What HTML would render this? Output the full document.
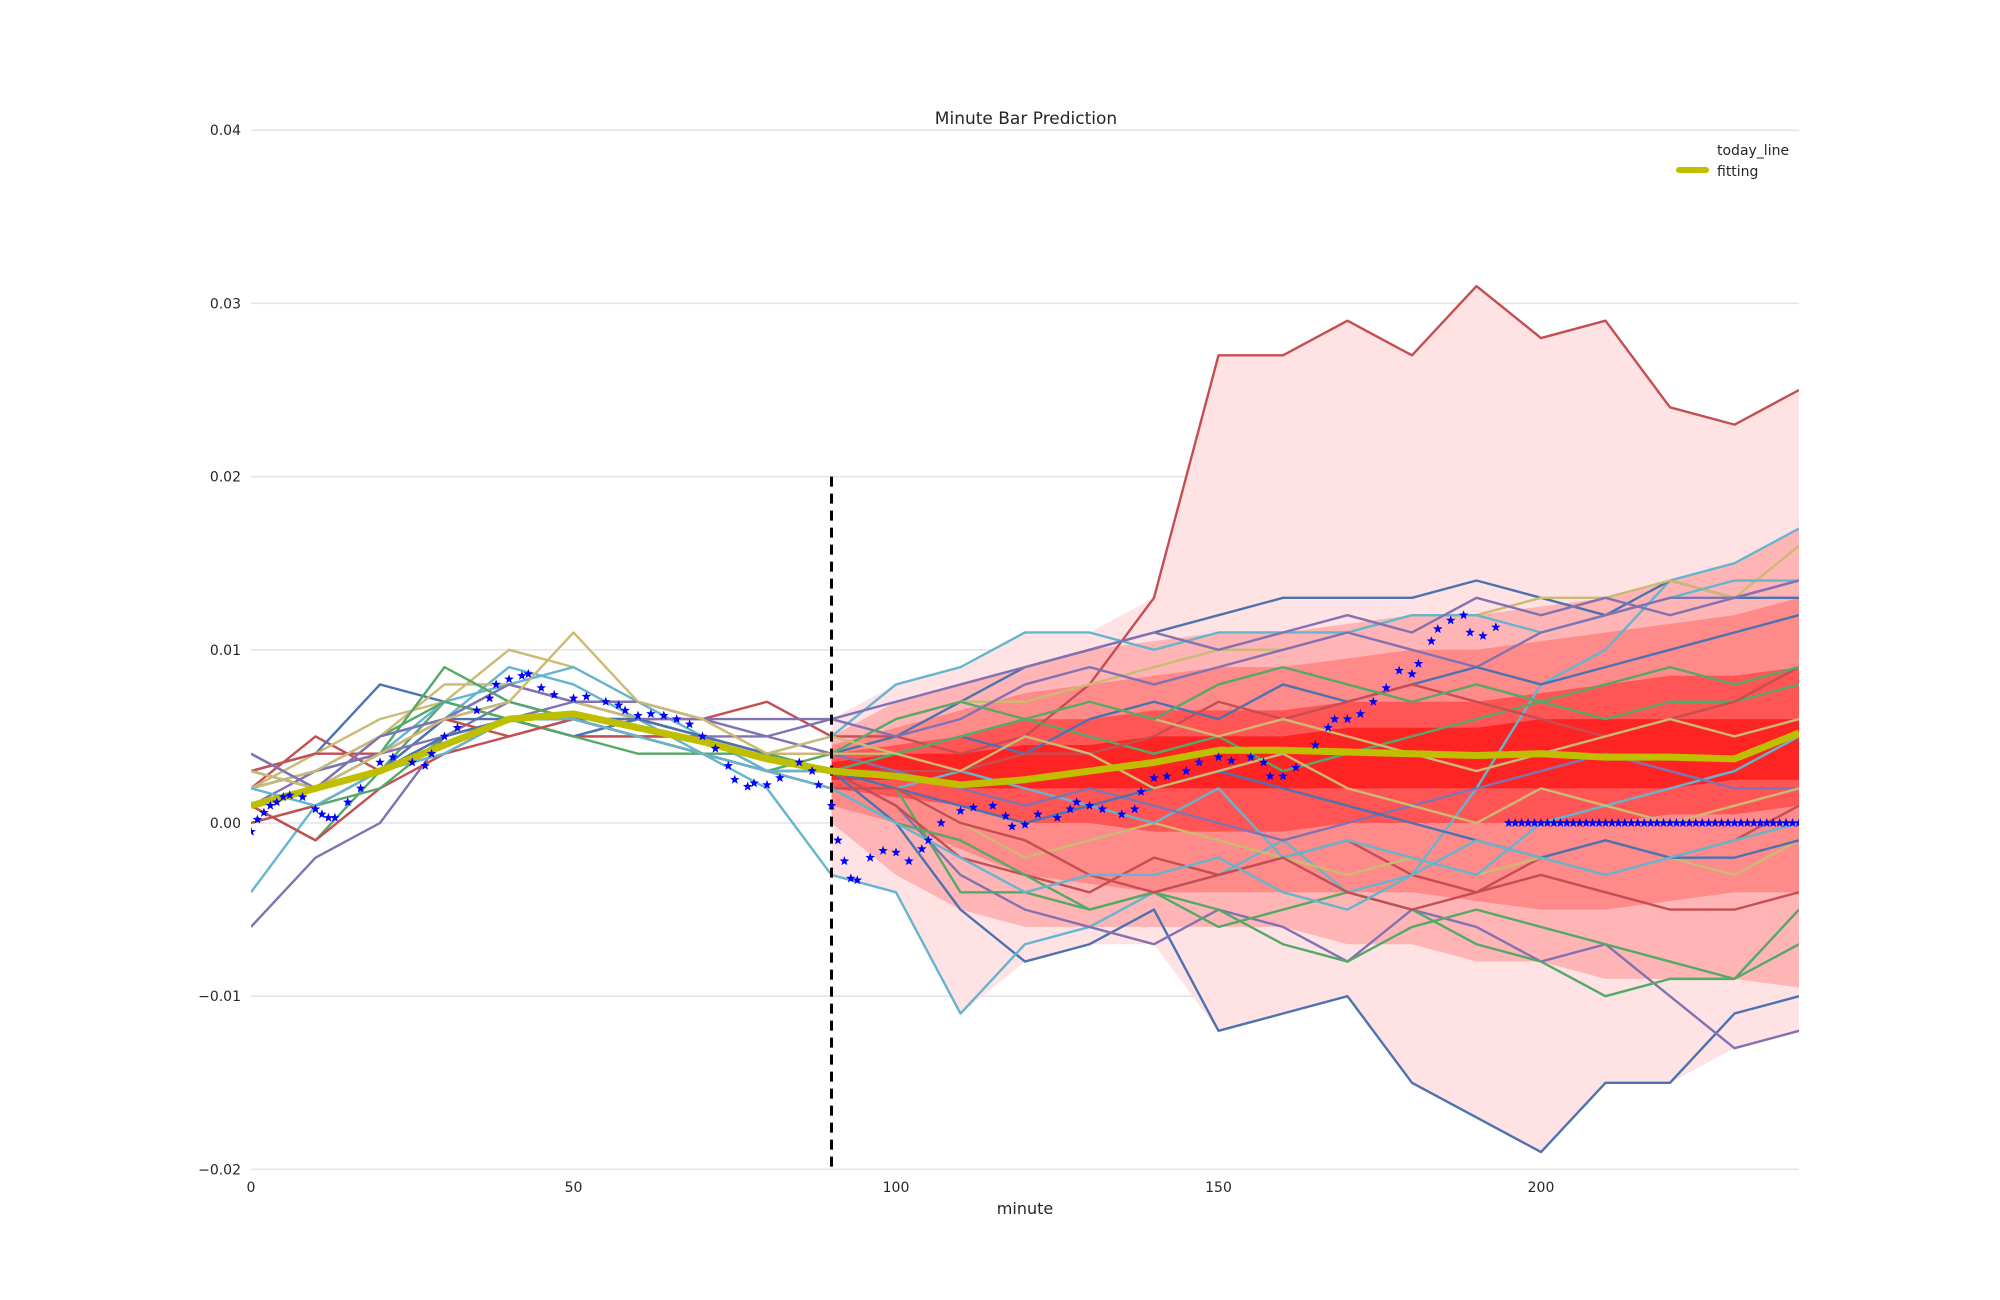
<!DOCTYPE html>
<html><head><meta charset="utf-8"><style>
html,body{margin:0;padding:0;background:#fff;}
svg{display:block;font-family:"DejaVu Sans","Liberation Sans",sans-serif;}
</style></head><body>
<svg id="chart" width="2000" height="1300" viewBox="0 0 2000 1300" xmlns="http://www.w3.org/2000/svg">
<text x="1026" y="124" font-size="17" text-anchor="middle" fill="#262626">Minute Bar Prediction</text>
<text x="1025" y="1214" font-size="16" text-anchor="middle" fill="#262626">minute</text>
<g id="grid"></g>
<g id="ticks"></g>
<defs><clipPath id="clip"><rect x="251" y="120" width="1548" height="1060"/></clipPath></defs>
<g id="plot" clip-path="url(#clip)"></g>
<g>
<text x="1717" y="155" font-size="14" fill="#262626">today_line</text>
<line x1="1679" y1="170" x2="1706" y2="170" stroke="#BFBF00" stroke-width="6" stroke-linecap="round"/>
<text x="1717" y="176" font-size="14" fill="#262626">fitting</text>
</g>
</svg>
<script>
const T = [0,10,20,30,40,50,60,70,80,90,100,110,120,130,140,150,160,170,180,190,200,210,220,230,240];
const s01 = [2,5,3,5,6,6,6,6,7,5,5,4,5,8,13,27,27,29,27,31,28,29,24,23,25];
const s02 = [3,4,8,7,6,5,6,5,4,3,0,-5,-8,-7,-5,-12,-11,-10,-15,-17,-19,-15,-15,-11,-10];
const s03 = [-4,1,3,6,9,8,6,4,2,-3,-4,-11,-7,-6,-4,-3,-1,-4,-3,2,8,10,14,15,17];
const s04 = [-6,-2,0,5,7,6,5,5,3,3,1,-3,-5,-6,-7,-5,-6,-8,-5,-6,-8,-7,-10,-13,-12];
const s05 = [1,-1,3,7,6,5,5,4,3,3,2,-4,-4,-5,-4,-5,-7,-8,-6,-5,-6,-7,-8,-9,-5];
const s06 = [4,2,3,6,8,7,6,5,4,4,5,7,9,10,11,12,13,13,13,14,13,12,14,13,13];
const s07 = [2,4,6,7,10,9,7,6,4,4,6,7,7,8,9,10,10,11,12,12,13,13,14,13,16];
const s08 = [3,2,4,7,8,9,7,5,4,5,8,9,11,11,10,11,11,11,12,12,11,12,13,14,14];
const s09 = [1,3,4,6,7,6,6,5,5,6,5,6,8,9,8,9,10,11,10,9,11,12,13,13,14];
const s10 = [3,2,5,7,6,6,5,4,3,4,6,7,6,5,4,5,3,4,5,6,7,6,7,7,8];
const s11 = [1,-1,2,4,6,5,5,4,3,3,1,-2,-3,-4,-2,-3,-2,-1,-3,-4,-2,-1,-2,-1,1];
const s12 = [1,2,3,5,6,6,5,4,3,3,2,0,-2,-1,0,-1,-2,-3,-2,-3,-2,-1,-2,-3,-1];
const s13 = [2,3,5,6,6,5,6,5,4,3,4,5,4,6,7,6,8,7,8,9,8,9,10,11,12];
const s14 = [0,1,2,5,6,5,4,4,3,2,0,-1,-3,-5,-4,-6,-5,-4,-5,-7,-8,-10,-9,-9,-7];
const s15 = [2,3,4,6,7,6,5,5,3,3,2,3,2,1,0,2,-2,-1,-2,-3,0,1,2,3,5];
const s16 = [3,4,4,6,5,6,5,5,4,3,3,3,4,4,5,7,6,7,8,7,6,5,6,7,9];
const s17 = [2,3,4,5,6,7,6,6,5,4,3,2,1,2,1,0,-1,0,1,2,3,4,3,2,2];
const s18 = [2,3,5,8,8,7,6,5,4,4,4,5,6,7,6,5,6,5,4,3,4,5,6,5,6];
const s19 = [3,2,3,5,6,6,6,5,4,3,2,1,0,1,2,3,2,1,0,-1,-2,-1,-2,-2,-1];
const s20 = [1,2,4,9,7,6,5,4,4,3,4,5,6,7,6,8,9,8,7,8,7,8,9,8,9];
const s21 = [0,1,3,4,5,6,5,4,3,2,2,0,-1,-3,-4,-3,-2,-4,-5,-4,-3,-4,-5,-5,-4];
const s22 = [2,1,3,4,6,6,5,4,3,2,0,-2,-4,-3,-3,-2,-4,-5,-3,-1,-2,-3,-2,-1,0];
const s23 = [4,2,5,6,8,7,7,6,6,6,7,8,9,10,11,10,11,12,11,13,12,13,12,13,14];
const s24 = [3,2,4,6,7,11,7,6,4,5,4,3,5,4,2,3,4,2,1,0,2,1,0,1,2];
const seriesList = [s01,s02,s03,s04,s05,s06,s07,s08,s09,s10,s11,s12,s13,s14,s15,s16,s17,s18,s19,s20,s21,s22,s23,s24];
const seriesColors = ["#C44E52","#4C72B0","#64B5CD","#8172B2","#55A868","#4C72B0","#CCB974","#64B5CD","#8172B2","#55A868","#C44E52","#CCB974","#4C72B0","#55A868","#64B5CD","#C44E52","#8172B2","#CCB974","#4C72B0","#55A868","#C44E52","#64B5CD","#8172B2","#CCB974"];
const fitting = [1,2,3,4.5,6,6.3,5.5,4.7,3.7,3,2.7,2.2,2.5,3,3.5,4.2,4.2,4.1,4,3.9,4,3.8,3.8,3.7,5.2];
const BT = [90,100,110,120,130,140,150,160,170,180,190,200,210,220,230,240];
const b2Up = [5,7,8,9,10,10.5,11,11,11.5,12,12,12.5,13,14,15,17];
const b2Lo = [0,-3,-5,-6,-6,-6,-6,-6,-7,-7,-8,-8,-9,-9,-9,-9.5];
const b3Up = [4.5,5.5,6.5,7.5,8,8.5,9,9,9.5,10,10,10.5,11,11.5,12,13];
const b3Lo = [1,0,-1.5,-3,-3.5,-4,-4,-4,-4,-4,-4.5,-5,-5,-4.5,-4,-4];
const b4Up = [4,4.5,5,6,6,6.5,6.5,6.5,7,7,7,7.5,8,8.5,8.5,9];
const b4Lo = [2,1.5,1,0,0,-0.5,-0.5,-0.5,0,0,0,0,0,0.5,0.5,1];
const b5Up = [3.5,4,4,4.5,4.5,5,5,5,5.5,5.5,5.5,6,6,6,6,6];
const b5Lo = [2.5,2.5,2,2,2,2,2,2,2,2,2,2,2,2,2.5,2.5];
const todayT = [0,1,2,3,4,5,6,8,10,11,12,13,15,17,20,22,25,27,28,30,32,35,37,38,40,42,43,45,47,50,52,55,57,58,60,62,64,66,68,70,72,74,75,77,78,80,82,85,87,88,90,91,92,93,94,96,98,100,102,104,105,107,110,112,115,117,118,120,122,125,127,128,130,132,135,137,138,140,142,145,147,150,152,155,157,158,160,162,165,167,168,170,172,174,176,178,180,181,183,184,186,188,189,191,193,
195,196,197,198,199,200,201,202,203,204,205,206,207,208,209,210,211,212,213,214,215,216,217,218,219,220,221,222,223,224,225,226,227,228,229,230,231,232,233,234,235,236,237,238,239,240];
const todayV = [-0.5,0.2,0.6,1,1.2,1.5,1.6,1.5,0.8,0.5,0.3,0.3,1.2,2,3.5,3.8,3.5,3.3,4,5,5.5,6.5,7.2,8,8.3,8.5,8.6,7.8,7.4,7.2,7.3,7,6.8,6.5,6.2,6.3,6.2,6,5.7,5,4.3,3.3,2.5,2.1,2.3,2.2,2.6,3.5,3,2.2,1,-1,-2.2,-3.2,-3.3,-2,-1.6,-1.7,-2.2,-1.5,-1,0,0.7,0.9,1,0.4,-0.2,-0.1,0.5,0.3,0.8,1.2,1,0.8,0.5,0.8,1.8,2.6,2.7,3,3.5,3.8,3.6,3.8,3.5,2.7,2.7,3.2,4.5,5.5,6,6,6.3,7,7.8,8.8,8.6,9.2,10.5,11.2,11.7,12,11,10.8,11.3,
0,0,0,0,0,0,0,0,0,0,0,0,0,0,0,0,0,0,0,0,0,0,0,0,0,0,0,0,0,0,0,0,0,0,0,0,0,0,0,0,0,0,0,0,0,0];
const yTickVals = [0.04,0.03,0.02,0.01,0,-0.01,-0.02];
const yTickLabels = ["0.04","0.03","0.02","0.01","0.00","\u22120.01","\u22120.02"];
const xTickVals = [0,50,100,150,200];
const xTickLabels = ["0","50","100","150","200"];

const NS = "http://www.w3.org/2000/svg";
const xS = t => 251 + t * 6.45;
const yS = v => 823 - v * 17320;
const yK = v => yS(v / 1000);
function mk(tag, attrs, parent){ const e = document.createElementNS(NS, tag); for (const k in attrs) e.setAttribute(k, attrs[k]); parent.appendChild(e); return e; }
const grid = document.getElementById('grid'), ticks = document.getElementById('ticks'), plot = document.getElementById('plot');

yTickVals.forEach((v,i) => {
  const g = mk('line', {x1:251, x2:1799, y1:yS(v), y2:yS(v), stroke:'#e3e3e3', 'stroke-width':1.5}, grid);
  
  
  const t = mk('text', {x:241, y:yS(v)+5, 'font-size':14, 'text-anchor':'end', fill:'#262626'}, ticks);
  t.textContent = yTickLabels[i];
  
  
});
xTickVals.forEach((v,i) => {
  const t = mk('text', {x:xS(v), y:1192, 'font-size':14, 'text-anchor':'middle', fill:'#262626'}, ticks);
  t.textContent = xTickLabels[i];
  
  
});

function bandPath(times, up, lo){
  let d = '';
  times.forEach((t,i) => { d += (i ? 'L' : 'M') + xS(t) + ',' + yK(up[i]); });
  for (let i = times.length - 1; i >= 0; i--) d += 'L' + xS(times[i]) + ',' + yK(lo[i]);
  return d + 'Z';
}
const envT = [], envUp = [], envLo = [];
T.forEach((t,i) => { if (t >= 90) { envT.push(t); const vals = seriesList.map(s => s[i]); envUp.push(Math.max(...vals)); envLo.push(Math.min(...vals)); } });
const bands = [[envT,envUp,envLo,'#FFE2E3','band-outer'],[BT,b2Up,b2Lo,'#FFB5B5','band-80'],[BT,b3Up,b3Lo,'#FF8A8A','band-60'],[BT,b4Up,b4Lo,'#FF5555','band-40'],[BT,b5Up,b5Lo,'#FF2424','band-20']];
bands.forEach(b => {
  const p = mk('path', {d:bandPath(b[0],b[1],b[2]), fill:b[3], stroke:'none'}, plot);
  
  
});

seriesList.forEach((s,k) => {
  const pts = T.map((t,i) => xS(t) + ',' + yK(s[i])).join(' ');
  const l = mk('polyline', {points:pts, fill:'none', stroke:seriesColors[k], 'stroke-width':2.4, 'stroke-linejoin':'round'}, plot);
  
  
});

const dl = mk('line', {x1:xS(90), x2:xS(90), y1:yS(0.02), y2:yS(-0.02), stroke:'#000', 'stroke-width':3, 'stroke-dasharray':'10,7'}, plot);



const fl = mk('polyline', {points:T.map((t,i) => xS(t) + ',' + yK(fitting[i])).join(' '), fill:'none', stroke:'#BFBF00', 'stroke-width':7, 'stroke-linejoin':'round'}, plot);



function starPath(cx, cy, r){
  let d = '';
  for (let i = 0; i < 10; i++) { const a = -Math.PI/2 + i*Math.PI/5; const rr = i%2 ? r*0.42 : r; d += (i ? 'L' : 'M') + (cx + rr*Math.cos(a)).toFixed(1) + ',' + (cy + rr*Math.sin(a)).toFixed(1); }
  return d + 'Z';
}
const sg = mk('g', {fill:'#0000FF'}, plot);


todayT.forEach((t,i) => {
  const st = mk('path', {d:starPath(xS(t), yK(todayV[i]), 5)}, sg);
  
  
});
</script>
</body></html>
